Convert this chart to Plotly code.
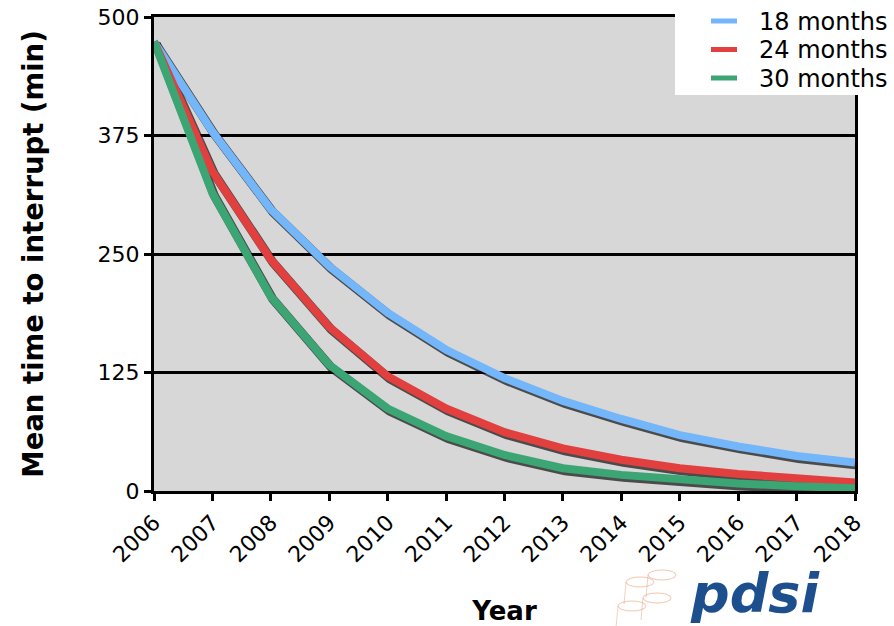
import plotly.graph_objects as go

years = [str(y) for y in range(2006, 2019)]
months_18 = [474, 379, 297, 237, 188, 149, 119, 95, 76, 59, 47, 37, 30]
months_24 = [474, 337, 244, 173, 121, 87, 62, 45, 33, 24, 18, 13, 9]
months_30 = [474, 314, 205, 133, 87, 58, 38, 24, 17, 12, 8, 5, 3]

series = [
    ("18 months", months_18, "#74b6fa"),
    ("24 months", months_24, "#e1403f"),
    ("30 months", months_30, "#3ba574"),
]

W, H = 894, 626
L, R, T, B = 154, 39, 17, 135
plot_w = W - L - R
plot_h = H - T - B
y_max = 500
n = len(years) - 1
xs = list(range(len(years)))

# drop shadow: same data on an overlay pair of axes shifted a couple of pixels
dx = 2.0 * n / plot_w
dy = 2.5 * y_max / plot_h

fig = go.Figure()
# anchor trace so the base axes (ticks, grid, frame) are drawn
fig.add_trace(go.Scatter(x=[0], y=[0], mode="markers", marker=dict(opacity=0),
                         showlegend=False, hoverinfo="skip"))
for name, vals, color in series:
    fig.add_trace(go.Scatter(
        x=xs, y=vals, mode="lines",
        line=dict(color="rgba(0,0,0,0.65)", width=9),
        xaxis="x2", yaxis="y2", showlegend=False, hoverinfo="skip"))
for name, vals, color in series:
    fig.add_trace(go.Scatter(
        x=xs, y=vals, mode="lines", name=name,
        line=dict(color=color, width=8),
        xaxis="x3", yaxis="y3", showlegend=False))

fig.update_layout(
    width=W, height=H,
    margin=dict(l=L, r=R, t=T, b=B),
    paper_bgcolor="white",
    plot_bgcolor="#d7d7d7",
    font=dict(family="DejaVu Sans", size=22, color="black"),
    showlegend=False,
    xaxis=dict(
        range=[0, n], tickmode="array", tickvals=xs,
        ticktext=years, tickangle=-45, showgrid=False, zeroline=False,
        showline=True, linecolor="black", linewidth=3, mirror=True,
        ticks="outside", ticklen=7, tickwidth=2.5, tickcolor="black",
        tickfont=dict(size=22), automargin=False,
        title=dict(text="<b>Year</b>", font=dict(size=26), standoff=37),
    ),
    yaxis=dict(
        range=[0, y_max], tickmode="array", tickvals=[0, 125, 250, 375, 500],
        showgrid=True, gridcolor="black", gridwidth=2.5, zeroline=False,
        showline=True, linecolor="black", linewidth=3, mirror=True,
        ticks="outside", ticklen=7, tickwidth=2.5, tickcolor="black",
        tickfont=dict(size=22), automargin=False,
        title=dict(text="<b>Mean time to interrupt (min)</b>", font=dict(size=27.5), standoff=46),
    ),
    xaxis2=dict(range=[-dx, n - dx], overlaying="x", visible=False),
    yaxis2=dict(range=[dy, y_max + dy], overlaying="y", visible=False),
    xaxis3=dict(range=[0, n], overlaying="x", visible=False),
    yaxis3=dict(range=[0, y_max], overlaying="y", visible=False),
)


def px(x):
    return (x - L) / plot_w


def py(y):
    return 1 - (y - T) / plot_h


# legend panel: white box over the frame corner, swatches and labels
fig.add_shape(type="rect", xref="paper", yref="paper",
              x0=px(675), x1=px(W), y0=py(95), y1=py(-2),
              fillcolor="white", line=dict(width=0), layer="above")
for i, (name, vals, color) in enumerate(series):
    yc = 21 + 28.5 * i
    fig.add_shape(type="line", xref="paper", yref="paper",
                  x0=px(711), x1=px(737), y0=py(yc), y1=py(yc),
                  line=dict(color=color, width=5), layer="above")
    fig.add_annotation(text=name, xref="paper", yref="paper",
                       x=px(757), y=py(yc + 1), xanchor="left", yanchor="middle",
                       showarrow=False, font=dict(size=24))

# logo
for cx, cy in [(640, 582), (662, 575), (632, 606), (657, 598)]:
    fig.add_shape(type="circle", xref="paper", yref="paper",
                  x0=px(cx - 14), x1=px(cx + 14), y0=py(cy + 5), y1=py(cy - 5),
                  line=dict(color="rgba(225,140,100,0.5)", width=1), layer="above")
    fig.add_shape(type="line", xref="paper", yref="paper",
                  x0=px(cx - 14), x1=px(cx - 16), y0=py(cy), y1=py(cy + 22),
                  line=dict(color="rgba(225,140,100,0.4)", width=1), layer="above")
fig.add_annotation(
    text="<b><i>pdsi</i></b>", xref="paper", yref="paper",
    x=px(755), y=py(593), xanchor="center", yanchor="middle",
    showarrow=False, font=dict(family="DejaVu Sans", size=54, color="#1d4f8f"))

fig.write_html("out.html")
